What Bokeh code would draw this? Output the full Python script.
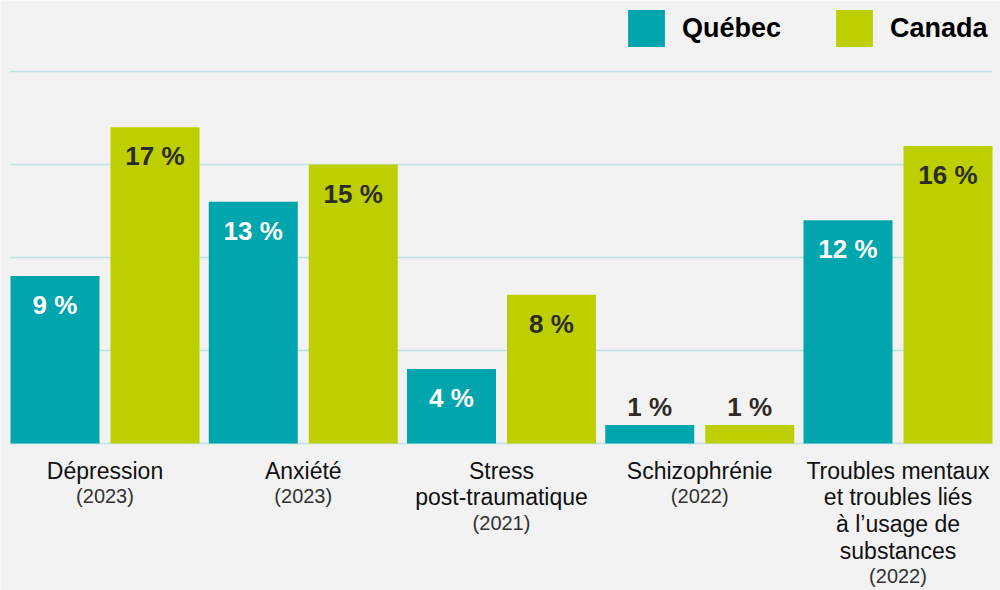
from bokeh.plotting import figure
from bokeh.models import Range1d, ColumnDataSource, Legend, LegendItem
from bokeh.core.properties import value
from bokeh.embed import file_html
from bokeh.resources import INLINE

# ---- data ----
categories = ["Dépression", "Anxiété", "Stress\npost-traumatique", "Schizophrénie",
              "Troubles mentaux\net troubles liés\nà l’usage de\nsubstances"]
years = ["(2023)", "(2023)", "(2021)", "(2022)", "(2022)"]
quebec = [9, 13, 4, 1, 12]
canada = [17, 15, 8, 1, 16]
grid_ticks = [0, 5, 10, 15, 20]
series_names = ["Québec", "Canada"]

# ---- style / layout constants ----
W, H = 1000, 590
GROUP_PX = 198.25
FIRST_CENTER_PX = 104.5
PX_PER_UNIT = 18.6
BASE_PX = 443
OFF = 50 / GROUP_PX
BAR_W = 89 / GROUP_PX
TEAL = "#00A5AD"
LIME = "#BDCF00"
DARK = "#2E2A25"
BG = "#F2F2F2"
GRID = "#BFE1E4"
FONT = "Liberation Sans"

p = figure(width=W, height=H, output_backend="svg", toolbar_location=None,
           x_range=Range1d(-FIRST_CENTER_PX / GROUP_PX, (W - FIRST_CENTER_PX) / GROUP_PX),
           y_range=Range1d(-(H - BASE_PX) / PX_PER_UNIT, BASE_PX / PX_PER_UNIT),
           x_axis_type=None, y_axis_type=None, min_border=0,
           background_fill_color=BG, border_fill_color=BG, outline_line_color=None)
p.grid.visible = False

n = len(categories)
idx = list(range(n))

# grid lines
gx0 = 0 - OFF - BAR_W / 2
gx1 = (n - 1) + OFF + BAR_W / 2
p.segment(x0=[gx0] * len(grid_ticks), x1=[gx1] * len(grid_ticks), y0=grid_ticks, y1=grid_ticks,
          line_color=GRID, line_width=1.3)

# bars
rq = p.vbar(x=[i - OFF for i in idx], top=quebec, bottom=0, width=BAR_W,
            fill_color=TEAL, line_color=None)
rc = p.vbar(x=[i + OFF for i in idx], top=canada, bottom=0, width=BAR_W,
            fill_color=LIME, line_color=None)

# value labels
lx, ly, lt, lc, lo = [], [], [], [], []
for vals, sign, inside_col in ((quebec, -1, "white"), (canada, 1, DARK)):
    for i, v in enumerate(vals):
        lx.append(i + sign * OFF)
        ly.append(v)
        lt.append(f"{v} %")
        if v >= 3:
            lc.append(inside_col)
            lo.append(29)
        else:
            lc.append(DARK)
            lo.append(-18)
p.text(x="x", y="y", text="t", text_color="c", y_offset="o",
       source=ColumnDataSource(dict(x=lx, y=ly, t=lt, c=lc, o=lo)),
       text_font=value(FONT), text_font_size="26px", text_font_style="bold",
       text_align="center", text_baseline="alphabetic")

# category labels (line by line)
LINE = 26.7
FIRST = 27
nx, nt, no = [], [], []
yx, yt, yo = [], [], []
for i, (c, yr) in enumerate(zip(categories, years)):
    lines = c.split("\n")
    for k, ln in enumerate(lines):
        nx.append(i); nt.append(ln); no.append(FIRST + k * LINE)
    yx.append(i); yt.append(yr); yo.append(FIRST + len(lines) * LINE - 1)
p.text(x="x", y=0, text="t", y_offset="o",
       source=ColumnDataSource(dict(x=nx, t=nt, o=no)),
       text_font=value(FONT), text_font_size="23px", text_color="#111111",
       text_align="center", text_baseline="alphabetic")
p.text(x="x", y=0, text="t", y_offset="o",
       source=ColumnDataSource(dict(x=yx, t=yt, o=yo)),
       text_font=value(FONT), text_font_size="20px", text_color="#333333",
       text_align="center", text_baseline="alphabetic")

# legend
legend = Legend(items=[LegendItem(label=series_names[0], renderers=[rq]),
                       LegendItem(label=series_names[1], renderers=[rc])],
                orientation="horizontal", location=(618, 534),
                glyph_width=46, glyph_height=46, label_standoff=13, spacing=50,
                padding=5, margin=0, border_line_alpha=0, background_fill_alpha=0,
                label_text_font=FONT, label_text_font_size="27px",
                label_text_font_style="bold", label_text_color="#000000")
p.add_layout(legend)

open("out.html", "w").write(file_html(p, INLINE))
